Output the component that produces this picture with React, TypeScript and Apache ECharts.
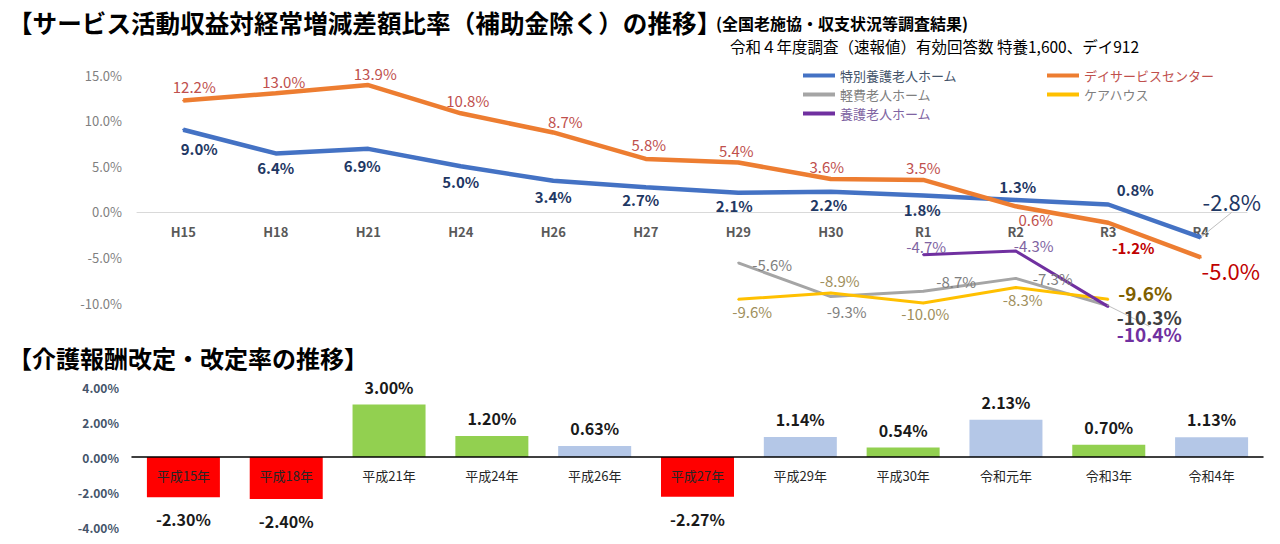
import React, { useEffect, useRef } from 'react';
import * as echarts from 'echarts';

// ---------- data ----------
const surveyYears = ['H15', 'H18', 'H21', 'H24', 'H26', 'H27', 'H29', 'H30', 'R1', 'R2', 'R3', 'R4'];
const tokuyouRatio = [9.0, 6.4, 6.9, 5.0, 3.4, 2.7, 2.1, 2.2, 1.8, 1.3, 0.8, -2.8];
const dayServiceRatio = [12.2, 13.0, 13.9, 10.8, 8.7, 5.8, 5.4, 3.6, 3.5, 0.6, -1.2, -5.0];
const keihiRatio = [null, null, null, null, null, null, -5.6, -9.3, -8.7, -7.3, -10.3, null];
const careHouseRatio = [null, null, null, null, null, null, -9.6, -8.9, -10.0, -8.3, -9.6, null];
const yougoRatio = [null, null, null, null, null, null, null, null, -4.7, -4.3, -10.4, null];

const topAxisMin = -10;
const topAxisMax = 15;
const topAxisStep = 5;

const revisionYears = ['平成15年', '平成18年', '平成21年', '平成24年', '平成26年', '平成27年', '平成29年', '平成30年', '令和元年', '令和3年', '令和4年'];
const revisionRates = [-2.3, -2.4, 3.0, 1.2, 0.63, -2.27, 1.14, 0.54, 2.13, 0.7, 1.13];
const revisionKinds = ['minus', 'minus', 'regular', 'regular', 'special', 'minus', 'special', 'regular', 'special', 'regular', 'special'];

const bottomAxisMin = -4;
const bottomAxisMax = 4;
const bottomAxisStep = 2;

const titleMain = '【サービス活動収益対経常増減差額比率（補助金除く）の推移】';
const titleSource = '(全国老施協・収支状況等調査結果)';
const titleNote = '令和４年度調査（速報値）有効回答数 特養1,600、デイ912';
const titleBottom = '【介護報酬改定・改定率の推移】';

// ---------- styles / layout ----------
const FONT = '"Noto Sans CJK JP", "Noto Sans", sans-serif';

const topGrid = { left: 137, right: 33, top: 75, height: 228 };
const bottomGrid = { left: 132, right: 17, top: 387, height: 140 };

// distance from the bottom of a grid up to its zero line (keeps category labels on the zero line)
const zeroOffset = (h: number, min: number, max: number) => -(h * (0 - min)) / (max - min);

const kindColors: Record<string, string> = {
  minus: '#FF0000',
  regular: '#92D050',
  special: '#B4C7E7',
};

type Off = [number, number] | null;

const blueOffsets: Off[] = [[16, 19], [0, 14], [-6, 17], [0, 15], [0, 16], [-5, 12], [-4, 13], [-2, 13], [-1, 14], [2, -13], [27, -15], [31, -36]];
const orangeOffsets: Off[] = [[11, -14], [8, -12], [7, -12], [7, -13], [12, -11], [3, -14], [-2, -12], [-4, -12], [0, -12], [20, 13], [25, 25], [30, 13]];
const grayOffsets: Off[] = [null, null, null, null, null, null, [34, 2], [16, 15], [33, -10], [37, 0], [41, 11], null];
const yellowOffsets: Off[] = [null, null, null, null, null, null, [14, 12], [9, -12], [2, 10], [7, 12], [37, -7], null];
const purpleOffsets: Off[] = [null, null, null, null, null, null, null, null, [3, -8], [18, -6], [41, 27], null];

interface LineDef {
  name: string;
  values: (number | null)[];
  color: string;
  width: number;
  labelColor: string;
  labelWeight: string;
  legendText: string;
  offsets: Off[];
  special: Record<number, any>;
  guides: number[];
}

const lineDefs: LineDef[] = [
  {
    name: '特別養護老人ホーム', values: tokuyouRatio, color: '#4472C4', width: 4.5,
    labelColor: '#1F3864', labelWeight: 'bold', legendText: '#44546A', offsets: blueOffsets,
    special: { 11: { fontSize: 22, fontWeight: 'normal', color: '#1F3864' } }, guides: [11],
  },
  {
    name: 'デイサービスセンター', values: dayServiceRatio, color: '#ED7D31', width: 4.5,
    labelColor: '#C0504D', labelWeight: 'normal', legendText: '#C0504D', offsets: orangeOffsets,
    special: {
      10: { fontWeight: 'bold', color: '#C00000' },
      11: { fontSize: 22, fontWeight: 'normal', color: '#C00000' },
    }, guides: [],
  },
  {
    name: '軽費老人ホーム', values: keihiRatio, color: '#A5A5A5', width: 3,
    labelColor: '#7F7F7F', labelWeight: 'normal', legendText: '#7F7F7F', offsets: grayOffsets,
    special: { 10: { fontSize: 19, fontWeight: 'bold', color: '#404040' } }, guides: [10],
  },
  {
    name: 'ケアハウス', values: careHouseRatio, color: '#FFC000', width: 3,
    labelColor: '#A08F5C', labelWeight: 'normal', legendText: '#7F7F7F', offsets: yellowOffsets,
    special: { 10: { fontSize: 19, fontWeight: 'bold', color: '#7F6000' } }, guides: [],
  },
  {
    name: '養護老人ホーム', values: yougoRatio, color: '#7030A0', width: 3,
    labelColor: '#8064A2', labelWeight: 'normal', legendText: '#8064A2', offsets: purpleOffsets,
    special: { 10: { fontSize: 19, fontWeight: 'bold', color: '#7030A0' } }, guides: [],
  },
];

function buildLineSeries(def: LineDef) {
  return {
    type: 'line',
    name: def.name,
    xAxisIndex: 0,
    yAxisIndex: 0,
    clip: false,
    symbol: 'circle',
    symbolSize: 2,
    showSymbol: true,
    itemStyle: { color: def.color },
    lineStyle: { color: def.color, width: def.width },
    data: def.values.map((v, i) => {
      if (v === null) return '-';
      const item: any = {
        value: v,
        label: {
          show: true,
          position: 'inside',
          offset: def.offsets[i] || [0, 0],
          color: def.labelColor,
          fontWeight: def.labelWeight,
          fontSize: 15,
          fontFamily: FONT,
          formatter: (p: any) => Number(p.value).toFixed(1) + '%',
          ...(def.special[i] || {}),
        },
      };
      if (def.guides.includes(i)) {
        item.labelLine = { show: true, lineStyle: { color: '#BFBFBF', width: 1 } };
      }
      return item;
    }),
  };
}

function buildOption() {
  return {
    animation: false,
    backgroundColor: '#FFFFFF',
    textStyle: { fontFamily: FONT },
    graphic: [
      { type: 'text', x: 8, y: 22, style: { text: titleMain, font: `bold 24.6px ${FONT}`, fill: '#000', verticalAlign: 'middle' } },
      { type: 'text', x: 716, y: 23, style: { text: titleSource, font: `bold 16px ${FONT}`, fill: '#000', verticalAlign: 'middle' } },
      { type: 'text', x: 730, y: 46, style: { text: titleNote, font: `15.5px ${FONT}`, fill: '#000', verticalAlign: 'middle' } },
      { type: 'text', x: 8, y: 357, style: { text: titleBottom, font: `bold 24px ${FONT}`, fill: '#000', verticalAlign: 'middle' } },
    ],
    legend: [
      {
        left: 798, top: 64, orient: 'vertical', icon: 'rect', itemWidth: 32, itemHeight: 4, itemGap: 6,
        selectedMode: false, textStyle: { fontSize: 13, fontFamily: FONT },
        data: [lineDefs[0], lineDefs[2], lineDefs[4]].map((d) => ({ name: d.name, textStyle: { color: d.legendText } })),
      },
      {
        left: 1042, top: 64, orient: 'vertical', icon: 'rect', itemWidth: 32, itemHeight: 4, itemGap: 6,
        selectedMode: false, textStyle: { fontSize: 13, fontFamily: FONT },
        data: [lineDefs[1], lineDefs[3]].map((d) => ({ name: d.name, textStyle: { color: d.legendText } })),
      },
    ],
    grid: [topGrid, bottomGrid],
    xAxis: [
      {
        type: 'category', gridIndex: 0, data: surveyYears, boundaryGap: true, position: 'bottom',
        offset: zeroOffset(topGrid.height, topAxisMin, topAxisMax),
        axisLine: { onZero: false, lineStyle: { color: '#D9D9D9', width: 1 } },
        axisTick: { show: false },
        axisLabel: { color: '#595959', fontWeight: 'bold', fontSize: 13, margin: 13, fontFamily: FONT },
      },
      {
        type: 'category', gridIndex: 1, data: revisionYears, boundaryGap: true, position: 'bottom',
        offset: zeroOffset(bottomGrid.height, bottomAxisMin, bottomAxisMax),
        z: 10,
        axisLine: { onZero: false, lineStyle: { color: '#000000', width: 1.5 } },
        axisTick: { show: false },
        axisLabel: { color: '#262626', fontSize: 13, margin: 12, fontFamily: FONT },
      },
    ],
    yAxis: [
      {
        type: 'value', gridIndex: 0, min: topAxisMin, max: topAxisMax, interval: topAxisStep,
        splitLine: { show: false }, axisLine: { show: false }, axisTick: { show: false },
        axisLabel: { color: '#7F7F7F', fontSize: 13, margin: 15, fontFamily: FONT, formatter: (v: number) => v.toFixed(1) + '%' },
      },
      {
        type: 'value', gridIndex: 1, min: bottomAxisMin, max: bottomAxisMax, interval: bottomAxisStep,
        splitLine: { show: false }, axisLine: { show: false }, axisTick: { show: false },
        axisLabel: { color: '#44546A', fontSize: 12, fontWeight: 'bold', margin: 13, fontFamily: FONT, formatter: (v: number) => v.toFixed(2) + '%' },
      },
    ],
    series: [
      {
        type: 'bar',
        name: '改定率',
        xAxisIndex: 1,
        yAxisIndex: 1,
        barWidth: '71%',
        z: 1,
        data: revisionRates.map((v, i) => ({
          value: v,
          itemStyle: { color: kindColors[revisionKinds[i]] },
          label: {
            show: true,
            position: v < 0 ? 'bottom' : 'top',
            distance: v < 0 ? 14 : 10,
            color: '#1A1A1A',
            fontSize: 16,
            fontWeight: 'bold',
            fontFamily: FONT,
            formatter: (p: any) => Number(p.value).toFixed(2) + '%',
          },
        })),
      },
      ...lineDefs.map(buildLineSeries),
    ],
  };
}

export default function App() {
  const ref = useRef<HTMLDivElement>(null);
  useEffect(() => {
    if (!ref.current) return;
    const chart = echarts.init(ref.current, null, { renderer: 'svg' });
    chart.setOption(buildOption() as any);
    return () => chart.dispose();
  }, []);
  return (
    <div
      ref={ref}
      style={{ position: 'fixed', left: 0, top: 0, width: 1280, height: 544, background: '#fff' }}
    />
  );
}
